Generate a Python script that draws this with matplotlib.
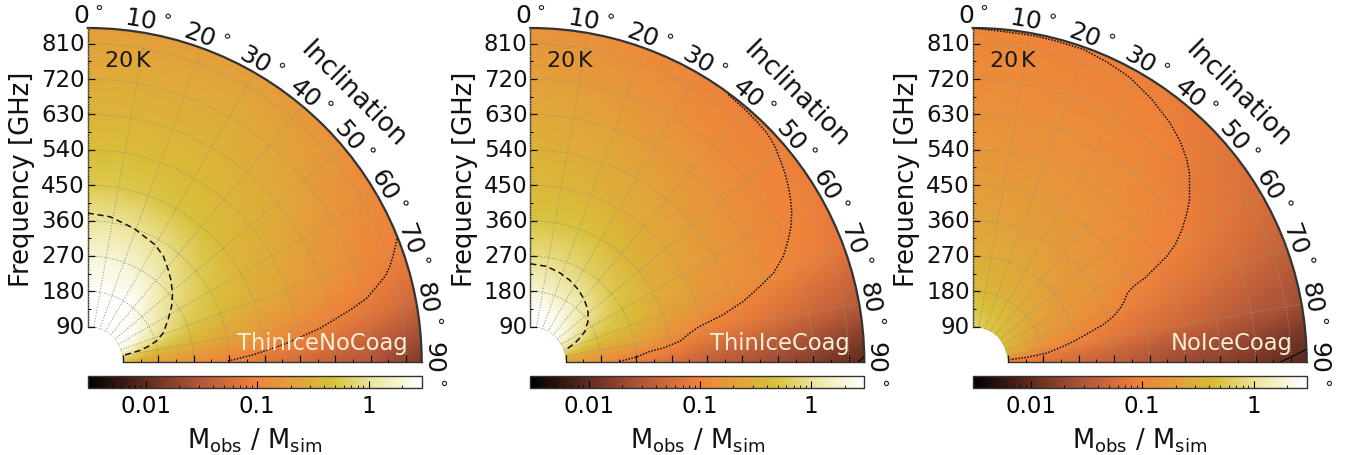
import numpy as np
import matplotlib
matplotlib.use("Agg")
import matplotlib.pyplot as plt
from matplotlib.colors import LinearSegmentedColormap, LogNorm
from matplotlib.ticker import FixedLocator, NullFormatter
from matplotlib import cm

plt.rcParams['mathtext.default'] = 'regular'
plt.rcParams['font.family'] = 'DejaVu Sans'

W, H = 1357, 456

inclination_grid = [0, 10, 20, 30, 40, 50, 60, 70, 75, 80, 85, 90]
frequency_grid = [60, 90, 135, 180, 270, 360, 450, 540, 630, 720, 810, 900]

ratio_thin_nocoag = [
    [12, 12, 12, 11, 10, 9, 8, 6, 3.6, 2.2, 1.2, 0.6],
    [8, 8, 8, 7, 6, 5, 4.5, 3.5, 1.9, 1.0, 0.7, 0.5],
    [6, 6, 6, 5, 4.2, 3.2, 2.4, 1.6, 1.0, 0.6, 0.35, 0.25],
    [4, 4, 3.8, 3.2, 2.8, 2.0, 1.6, 1.0, .68, 0.45, 0.28, 0.2],
    [2, 2, 1.9, 1.7, 1.4, 1.0, 0.75, 0.55, .42, 0.32, 0.2, 0.14],
    [1.05, 1.05, 1.0, 0.92, 0.75, 0.6, 0.5, 0.4, .31, 0.24, 0.15, 0.095],
    [.55, .55, .53, .49, .44, .39, .34, .29, .23, .18, .11, .07],
    [.42, .42, .41, .39, .36, .32, .27, .22, .175, .13, .085, .055],
    [.34, .34, .34, .33, .3, .26, .21, .17, .135, .1, .065, .04],
    [.28, .28, .28, .28, .25, .21, .165, .13, .105, .075, .045, .03],
    [.22, .23, .23, .23, .2, .165, .13, .105, .078, .055, .03, .018],
    [.18, .19, .19, .185, .16, .13, .1, .08, .057, .04, .022, .012],
]
ratio_thin_coag = [
    [6, 6, 6, 5.5, 4.5, 4, 3, 1.6, 1.0, 0.7, 0.5, 0.35],
    [4, 4, 4, 3.5, 3, 2.5, 1.6, 1.0, .65, 0.45, 0.3, .25],
    [2.8, 2.8, 2.6, 2.4, 2.0, 1.7, 1.1, 0.7, .48, 0.33, 0.22, .18],
    [1.9, 1.9, 1.7, 1.6, 1.4, 1.1, .75, .5, .36, .27, .18, .14],
    [.85, .85, .8, .7, .62, .55, .48, .38, .29, .22, .12, .085],
    [.5, .5, .48, .43, .37, .33, .3, .25, .19, .14, .09, .06],
    [.38, .37, .34, .3, .27, .24, .22, .18, .135, .095, .06, .04],
    [.32, .3, .27, .24, .21, .19, .17, .15, .105, .08, .045, .03],
    [.27, .25, .22, .19, .17, .15, .135, .125, .085, .065, .035, .022],
    [.22, .2, .17, .15, .13, .12, .11, .1, .068, .05, .027, .016],
    [.17, .155, .135, .12, .105, .102, .095, .085, .055, .04, .02, .0115],
    [.14, .125, .11, .095, .085, .08, .075, .065, .042, .03, .015, .008],
]
ratio_noice_coag = [
    [.9, .85, .75, .65, .55, .5, .45, .42, .37, .33, .2, .13],
    [.72, .62, .58, .55, .5, .45, .42, .38, .31, .25, .13, .1],
    [.52, .48, .45, .42, .38, .33, .3, .26, .22, .17, .1, .08],
    [.4, .38, .35, .33, .3, .26, .23, .2, .16, .12, .085, .068],
    [.3, .28, .26, .24, .22, .2, .18, .15, .12, .1, .065, .05],
    [.24, .22, .21, .2, .18, .17, .16, .11, .088, .075, .05, .038],
    [.2, .19, .18, .17, .16, .14, .13, .09, .072, .06, .038, .029],
    [.17, .16, .155, .15, .14, .125, .105, .075, .06, .05, .03, .022],
    [.15, .14, .135, .13, .125, .105, .09, .065, .05, .04, .025, .018],
    [.13, .125, .12, .115, .105, .085, .075, .055, .042, .032, .02, .014],
    [.115, .11, .105, .1, .09, .075, .065, .045, .034, .027, .015, .0105],
    [.1, .095, .09, .085, .075, .065, .055, .038, .027, .02, .012, .0085],
]

# Contours: (inclination deg, frequency GHz)
p1_level1_inc = [0, 8.8, 19, 30, 35.6, 41, 45.2, 51, 56.5, 62, 69, 73, 75.5, 77.5, 78.4, 79.6]
p1_level1_frq = [379, 374, 360, 344, 331, 312, 298, 278, 256, 232, 206, 183, 160, 137, 114, 90]
p1_level01_inc = [68.3, 70.4, 72.4, 73.9, 75.3, 77.1, 78.5, 80, 81.7, 83.2, 84.9, 86.1, 87.5, 88.5, 89.7]
p1_level01_frq = [847, 827, 807, 788, 761, 729, 690, 644, 598, 549, 500, 461, 422, 388, 354]

p2_level1_inc = [0, 9.7, 18.4, 25.9, 33.6, 40.7, 47.6, 53.9, 60.7, 63.6, 67, 71.4]
p2_level1_frq = [250, 247, 239, 231, 221, 210, 198, 183, 160, 143, 124, 93]
p2_level01_inc = [36.5, 40.8, 43.2, 45.9, 48.6, 51, 53.4, 55.7, 58, 60.3, 62.5, 64.6, 67.3, 69.9,
                  71.8, 74.1, 76.2, 78.1, 79.7, 82.1, 84, 84.9, 87.3, 89.6]
p2_level01_frq = [847, 843, 841, 838, 830, 818, 807, 795, 781, 766, 748, 727, 698, 659,
                  615, 564, 506, 441, 413, 385, 340, 306, 271, 228]
p2_level001_inc = [89, 90]
p2_level001_frq = [851, 835]

p3_level01_inc = [0, 4.7, 10.5, 14.7, 19.5, 24.4, 29, 34.3, 39.5, 43.2, 46.6, 48.9, 51, 53.2, 55.2, 57.7,
                  59.9, 61.4, 62.5, 64, 64.8, 66, 68.2, 69.9, 72, 74, 75.5, 77.9, 80.2, 83.1, 84.9, 86.4]
p3_level01_frq = [850, 845, 845, 844, 844, 836, 827, 809, 789, 771, 750, 732, 710, 689, 664, 630,
                  596, 563, 528, 488, 452, 431, 415, 400, 377, 346, 313, 271, 234, 190, 143, 95]
p3_level001_inc = [87.8, 88.9, 90]
p3_level001_frq = [851, 817, 783]

panel_names = ['ThinIceNoCoag', 'ThinIceCoag', 'NoIceCoag']
panel_ratios = [ratio_thin_nocoag, ratio_thin_coag, ratio_noice_coag]
panel_left = [87.7, 530.3, 972.7]
panel_dashed = [(p1_level1_inc, p1_level1_frq), (p2_level1_inc, p2_level1_frq), None]
panel_dotted = [(p1_level01_inc, p1_level01_frq), (p2_level01_inc, p2_level01_frq), (p3_level01_inc, p3_level01_frq)]
panel_solid = [None, (p2_level001_inc, p2_level001_frq), (p3_level001_inc, p3_level001_frq)]

frequency_ticks = [90, 180, 270, 360, 450, 540, 630, 720, 810]
frequency_minor = [135, 225, 315, 405, 495, 585, 675, 765]
inclination_ticks = [0, 10, 20, 30, 40, 50, 60, 70, 80, 90]
inclination_minor = [5, 15, 25, 35, 45, 55, 65, 75, 85]

cmap = LinearSegmentedColormap.from_list('mass', [
    (0.00, '#000000'), (0.17, '#5e2a1c'), (0.33, '#b0553a'), (0.50, '#f0813a'),
    (0.62, '#e3a13a'), (0.73, '#d8c038'), (0.86, '#eee8a4'), (1.00, '#ffffff')])
norm = LogNorm(vmin=0.003, vmax=3)

fig = plt.figure(figsize=(W / 100, H / 100), dpi=100)
S = 334.0
TOP = 29.0

for i in range(3):
    x0 = panel_left[i]
    ax = fig.add_axes([x0 / W, 1 - (TOP + S) / H, S / W, S / H], projection='polar')
    ax.set_theta_zero_location('N')
    ax.set_theta_direction(-1)
    ax.set_thetamin(0)
    ax.set_thetamax(90)
    ax.set_rorigin(0)
    ax.set_rlim(90, 850)

    T, F = np.meshgrid(np.radians(inclination_grid), frequency_grid)
    ax.pcolormesh(T, F, np.array(panel_ratios[i]), cmap=cmap, norm=norm,
                  shading='gouraud', rasterized=True, zorder=1)

    ax.set_xticks(np.radians(inclination_ticks))
    ax.set_xticklabels([f"{d}$\\,^{{\\circ}}$" for d in inclination_ticks])
    ax.xaxis.set_minor_locator(FixedLocator(np.radians(inclination_minor)))
    ax.xaxis.set_minor_formatter(NullFormatter())
    ax.tick_params(axis='x', which='major', direction='in', length=5, width=0.8,
                   pad=1.5, labelrotation='auto', labelsize=18, colors='#111111')
    ax.tick_params(axis='x', which='minor', direction='in', length=2.5, width=0.7)

    ax.set_yticks(frequency_ticks)
    ax.set_yticklabels([str(f) for f in frequency_ticks])
    ax.yaxis.set_minor_locator(FixedLocator(frequency_minor))
    ax.yaxis.set_minor_formatter(NullFormatter())
    ax.tick_params(axis='y', which='major', direction='in', length=5, width=0.9, pad=2,
                   left=True, right=True, labelsize=16.5, colors='#111111')
    ax.tick_params(axis='y', which='minor', direction='in', length=2.5, width=0.7,
                   left=True, right=True)
    ax.set_rlabel_position(0)

    ax.grid(True, which='major', color='#9a9670', linestyle=':', linewidth=0.75, zorder=2)
    ax.set_axisbelow(False)

    for key, sp in ax.spines.items():
        sp.set_color('#333333')
        sp.set_linewidth(1.6 if key == 'polar' else 1.0)
    ax.spines['inner'].set_linewidth(0)
    ax.spines['inner'].set_color('none')

    if panel_dashed[i]:
        inc, frq = panel_dashed[i]
        ax.plot(np.radians(inc), frq, color='#111111', ls=(0, (4, 2.5)), lw=1.1, zorder=3)
    inc, frq = panel_dotted[i]
    ax.plot(np.radians(inc), frq, color='#111111', ls=(0, (1, 1)), lw=1.1, zorder=3)
    if panel_solid[i]:
        inc, frq = panel_solid[i]
        ax.plot(np.radians(inc), frq, color='#111111', ls='-', lw=1.0, zorder=3)

    ax.text(0.048, 0.903, '20$\\,$K', transform=ax.transAxes, fontsize=16,
            ha='left', va='center', color='#1a1a1a', zorder=5)
    ax.text(0.957, 0.057, panel_names[i], transform=ax.transAxes, fontsize=16.3,
            ha='right', va='center', color='#f7efd6', zorder=5)
    ax.text(0.795, 0.803, 'Inclination', transform=ax.transAxes, fontsize=19,
            rotation=-45, rotation_mode='anchor', ha='center', va='center', color='#111111')
    ax.text(-0.196, 0.55, 'Frequency [GHz]', transform=ax.transAxes, fontsize=18.6,
            rotation=90, ha='center', va='center', color='#111111')

    cax = fig.add_axes([x0 / W, 1 - 388.5 / H, S / W, 11.3 / H])
    cb = fig.colorbar(cm.ScalarMappable(norm=norm, cmap=cmap), cax=cax, orientation='horizontal')
    cb.set_ticks([0.01, 0.1, 1])
    cb.set_ticklabels(['0.01', '0.1', '1'])
    cb.ax.tick_params(which='major', direction='in', length=5, width=0.8, labelsize=16.5, pad=5)
    cb.ax.tick_params(which='minor', direction='in', length=2.5, width=0.6)
    cb.outline.set_linewidth(1.0)
    cb.outline.set_edgecolor('#333333')
    cb.set_label('$M_{obs}$ / $M_{sim}$', fontsize=18.5, labelpad=6, color='#111111')

fig.savefig('out.png', dpi=100, facecolor='white')
